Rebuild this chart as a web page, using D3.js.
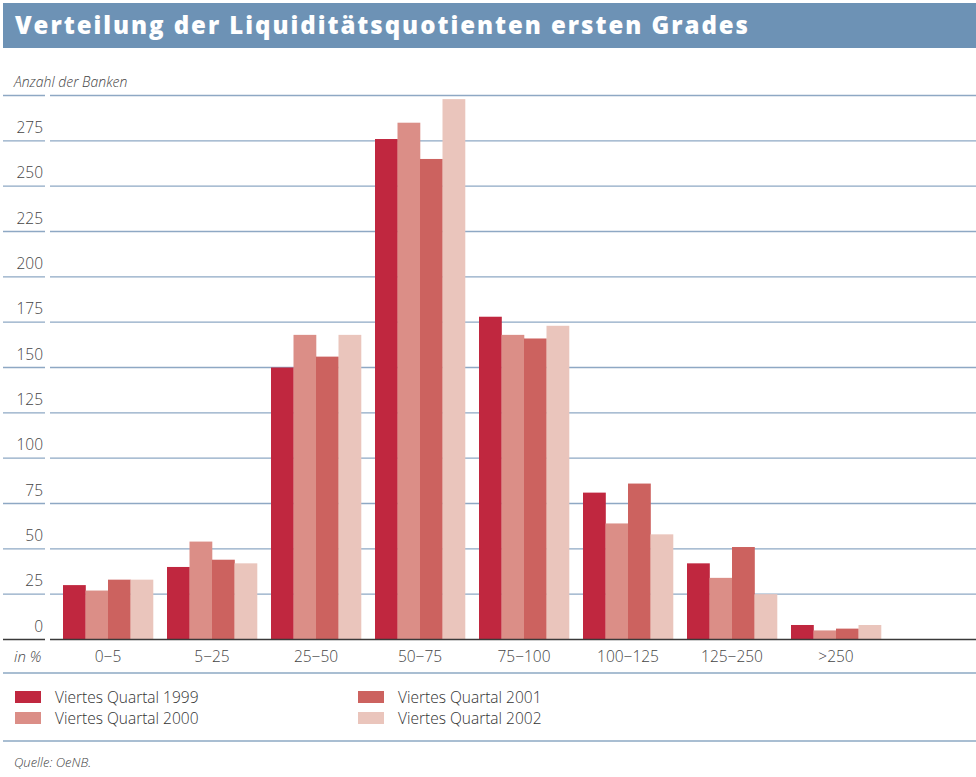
<!DOCTYPE html>
<html>
<head>
<meta charset="utf-8">
<script src="https://cdn.jsdelivr.net/npm/d3@7"></script>
<style>
  body { margin: 0; background: #fff; }
  svg text { font-family: "Open Sans", Lato, sans-serif; }
</style>
</head>
<body>
<div id="chart"></div>
<script>
const categories = ['0−5', '5−25', '25−50', '50−75', '75−100', '100−125', '125−250', '>250'];
const seriesNames = ['Viertes Quartal 1999', 'Viertes Quartal 2000', 'Viertes Quartal 2001', 'Viertes Quartal 2002'];
const q1999 = [30, 40, 150, 276, 178, 81, 42, 8];
const q2000 = [27, 54, 168, 285, 168, 64, 34, 5];
const q2001 = [33, 44, 156, 265, 166, 86, 51, 6];
const q2002 = [33, 42, 168, 298, 173, 58, 25, 8];
const yTicks = [0, 25, 50, 75, 100, 125, 150, 175, 200, 225, 250, 275];
const colors = ['#c0273f', '#db8e87', '#cc625f', '#eac5bc'];

const series = [q1999, q2000, q2001, q2002];
const width = 976, height = 777;

const svg = d3.select('#chart').append('svg')
  .attr('width', width)
  .attr('height', height);

// Title bar
svg.append('rect')
  .attr('x', 3).attr('y', 3)
  .attr('width', width - 3).attr('height', 45)
  .attr('fill', '#6d92b5');

svg.append('text')
  .attr('x', 15).attr('y', 34)
  .attr('font-size', '24px')
  .attr('font-weight', 800)
  .attr('fill', '#fff')
  .attr('textLength', 733)
  .attr('lengthAdjust', 'spacing')
  .text('Verteilung der Liquiditätsquotienten ersten Grades');

svg.append('text')
  .attr('x', 14).attr('y', 87)
  .attr('font-size', '14px')
  .attr('font-style', 'italic')
  .attr('font-weight', 300)
  .attr('fill', '#444')
  .text('Anzahl der Banken');

// Scales
const y = d3.scaleLinear().domain([0, 300]).range([639.5, 95.5]);
const x = d3.scaleBand().domain(categories).range([56, 888])
  .paddingInner(14 / 104).paddingOuter(7 / 104);
const xInner = d3.scaleBand().domain(d3.range(series.length)).range([0, x.bandwidth()]);

// Gridlines (split at the label column)
const grid = svg.append('g');
yTicks.concat([300]).filter(d => d > 0).forEach(d => {
  [[3, 45], [50, width]].forEach(([a, b]) => {
    grid.append('line')
      .attr('x1', a).attr('x2', b)
      .attr('y1', y(d)).attr('y2', y(d))
      .attr('stroke', '#8ea8c4')
      .attr('stroke-width', 1.4);
  });
});

// Tick labels sit just above their line
svg.append('g').selectAll('text')
  .data(yTicks)
  .join('text')
  .attr('x', 43)
  .attr('y', d => y(d) - 8)
  .attr('text-anchor', 'end')
  .attr('font-size', '15.5px')
  .attr('font-weight', 300)
  .attr('fill', '#444')
  .text(d => d);

// Bars
const groups = svg.append('g').selectAll('g')
  .data(categories)
  .join('g')
  .attr('transform', d => `translate(${x(d)},0)`);

groups.selectAll('rect')
  .data((d, i) => series.map((s, k) => ({ k, v: s[i] })))
  .join('rect')
  .attr('x', d => xInner(d.k))
  .attr('width', xInner.bandwidth() + 0.3)
  .attr('y', d => y(d.v))
  .attr('height', d => y(0) - y(d.v))
  .attr('fill', d => colors[d.k]);

// Baseline
[[3, 45], [50, width]].forEach(([a, b]) => {
  svg.append('line')
    .attr('x1', a).attr('x2', b)
    .attr('y1', y(0)).attr('y2', y(0))
    .attr('stroke', '#3a3a3a')
    .attr('stroke-width', 1.5);
});

// Category labels
svg.append('text')
  .attr('x', 14).attr('y', 662)
  .attr('font-size', '15px')
  .attr('font-style', 'italic')
  .attr('font-weight', 300)
  .attr('fill', '#444')
  .text('in %');

svg.append('g').selectAll('text')
  .data(categories)
  .join('text')
  .attr('x', d => x(d) + x.bandwidth() / 2)
  .attr('y', 662)
  .attr('text-anchor', 'middle')
  .attr('font-size', '15.5px')
  .attr('font-weight', 300)
  .attr('fill', '#444')
  .text(d => d);

// Separators
[673, 741].forEach(yy => {
  svg.append('line')
    .attr('x1', 3).attr('x2', width)
    .attr('y1', yy).attr('y2', yy)
    .attr('stroke', '#a9bed2')
    .attr('stroke-width', 2);
});

// Legend (two columns)
const legend = svg.append('g').selectAll('g')
  .data(seriesNames)
  .join('g')
  .attr('transform', (d, i) => `translate(${i < 2 ? 15 : 358},${i % 2 === 0 ? 691 : 712})`);

legend.append('rect')
  .attr('width', 26).attr('height', 12)
  .attr('fill', (d, i) => colors[i]);

legend.append('text')
  .attr('x', 40).attr('y', 12)
  .attr('font-size', '15.5px')
  .attr('font-weight', 300)
  .attr('fill', '#333')
  .text(d => d);

svg.append('text')
  .attr('x', 14).attr('y', 767)
  .attr('font-size', '13px')
  .attr('font-style', 'italic')
  .attr('font-weight', 300)
  .attr('fill', '#444')
  .text('Quelle: OeNB.');
</script>
</body>
</html>
